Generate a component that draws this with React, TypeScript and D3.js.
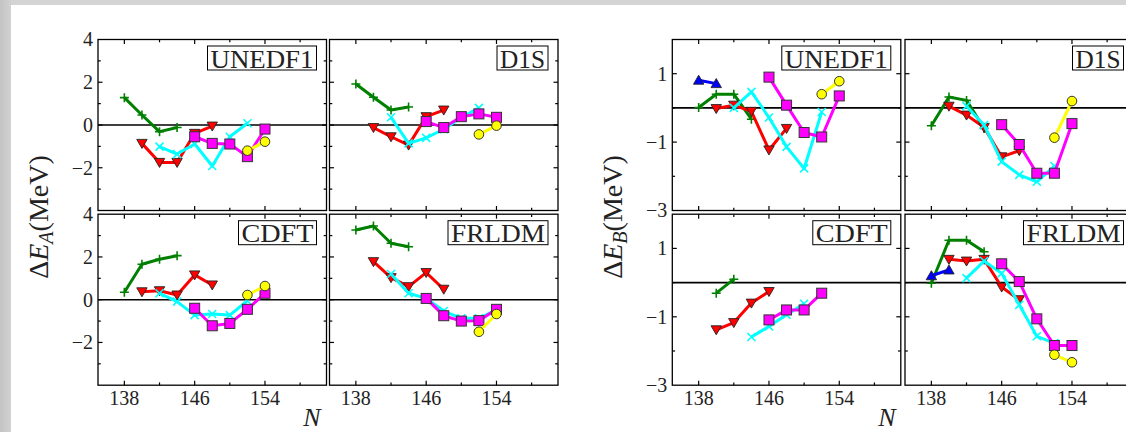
import React from 'react';
import * as d3 from 'd3';

const _ = null;
// Neutron numbers N = 138, 140, ..., 154
const N_VALUES = [138, 140, 142, 144, 146, 148, 150, 152, 154];
const X_TICKS = [138, 142, 146, 150, 154, 158];
const X_TICK_LABELS = [138, 146, 154];
const YA_MINOR = [-3, -1, 1, 3];
const YA_MAJOR = [-2, 0, 2];
const YA_LABELS = [4, 2, 0, -2];
const YB_MINOR = [-2, 0];
const YB_MAJOR = [-1, 1];
const YB_LABELS = [1, -1, -3];

// ---- Delta E_A ----
const A_UNEDF1_GREEN = [1.28, 0.47, -0.31, -0.12, _, _, _, _, _];
const A_UNEDF1_RED = [_, -0.86, -1.75, -1.75, -0.39, -0.05, _, _, _];
const A_UNEDF1_CYAN = [_, _, -1.01, -1.36, -0.89, -1.92, -0.55, 0.08, _];
const A_UNEDF1_MAGENTA = [_, _, _, _, -0.55, -0.86, -0.89, -1.48, -0.19];
const A_UNEDF1_YELLOW = [_, _, _, _, _, _, _, -1.2, -0.78];

const A_D1S_GREEN = [1.92, 1.3, 0.7, 0.84, _, _, _, _, _];
const A_D1S_RED = [_, -0.12, -0.55, -0.94, 0.39, 0.7, _, _, _];
const A_D1S_CYAN = [_, _, 0.36, -0.86, -0.6, -0.2, 0.35, 0.8, _];
const A_D1S_MAGENTA = [_, _, _, _, 0.16, -0.12, 0.39, 0.52, 0.36];
const A_D1S_YELLOW = [_, _, _, _, _, _, _, -0.44, -0.03];

const A_CDFT_GREEN = [0.35, 1.66, 1.89, 2.06, _, _, _, _, _];
const A_CDFT_RED = [_, 0.37, 0.42, 0.22, 1.16, 0.69, _, _, _];
const A_CDFT_CYAN = [_, _, 0.3, -0.09, -0.72, -0.67, -0.72, -0.05, _];
const A_CDFT_MAGENTA = [_, _, _, _, -0.4, -1.22, -1.11, -0.45, 0.3];
const A_CDFT_YELLOW = [_, _, _, _, _, _, _, 0.22, 0.64];

const A_FRLDM_GREEN = [3.26, 3.45, 2.64, 2.48, _, _, _, _, _];
const A_FRLDM_RED = [_, 1.78, 1.03, 0.61, 1.27, 0.49, _, _, _];
const A_FRLDM_CYAN = [_, _, 1.2, 0.3, 0.06, -0.53, -0.87, -0.87, -0.48];
const A_FRLDM_MAGENTA = [_, _, _, _, 0.06, -0.75, -1.0, -0.98, -0.45];
const A_FRLDM_YELLOW = [_, _, _, _, _, _, _, -1.5, -0.67];

// ---- Delta E_B ----
const B_UNEDF1_BLUE = [0.81, 0.71, _, _, _, _, _, _, _];
const B_UNEDF1_GREEN = [0.01, 0.4, 0.4, -0.33, _, _, _, _, _];
const B_UNEDF1_RED = [_, -0.02, 0.08, -0.1, -1.23, -0.6, _, _, _];
const B_UNEDF1_CYAN = [_, _, 0.0, 0.47, -0.28, -1.14, -1.77, -0.12, _];
const B_UNEDF1_MAGENTA = [_, _, _, _, 0.9, 0.08, -0.72, -0.85, 0.35];
const B_UNEDF1_YELLOW = [_, _, _, _, _, _, _, 0.4, 0.78];

const B_D1S_GREEN = [-0.52, 0.32, 0.22, -0.6, _, _, _, _, _];
const B_D1S_RED = [_, 0.05, -0.21, -0.57, -1.43, -1.25, _, _, _];
const B_D1S_CYAN = [_, _, 0.05, -0.5, -1.57, -1.96, -2.16, -1.7, _];
const B_D1S_MAGENTA = [_, _, _, _, -0.49, -1.07, -1.91, -1.91, -0.46];
const B_D1S_YELLOW = [_, _, _, _, _, _, _, -0.87, 0.2];

const B_CDFT_GREEN = [_, -0.31, 0.1, _, _, _, _, _, _];
const B_CDFT_RED = [_, -1.38, -1.17, -0.6, -0.26, _, _, _, _];
const B_CDFT_CYAN = [_, _, _, -1.59, -1.28, -0.94, -0.62, _, _];
const B_CDFT_MAGENTA = [_, _, _, _, -1.09, -0.8, -0.8, -0.31, _];

const B_FRLDM_BLUE = [0.2, 0.37, _, _, _, _, _, _, _];
const B_FRLDM_GREEN = [-0.02, 1.24, 1.24, 0.9, _, _, _, _, _];
const B_FRLDM_RED = [_, 0.68, 0.63, 0.68, -0.13, -0.5, _, _, _];
const B_FRLDM_CYAN = [_, _, 0.13, 0.63, 0.27, -0.65, -1.57, -1.77, _];
const B_FRLDM_MAGENTA = [_, _, _, _, 0.55, 0.03, -1.06, -1.84, -1.84];
const B_FRLDM_YELLOW = [_, _, _, _, _, _, _, -2.11, -2.33];

type Series = { key: string; values: (number | null)[] };
type PanelDef = { fig: 'A' | 'B'; col: number; row: number; label: string; series: Series[] };

const PANELS: PanelDef[] = [
  { fig: 'A', col: 0, row: 0, label: 'UNEDF1', series: [
    { key: 'green', values: A_UNEDF1_GREEN }, { key: 'red', values: A_UNEDF1_RED },
    { key: 'cyan', values: A_UNEDF1_CYAN }, { key: 'magenta', values: A_UNEDF1_MAGENTA },
    { key: 'yellow', values: A_UNEDF1_YELLOW }] },
  { fig: 'A', col: 1, row: 0, label: 'D1S', series: [
    { key: 'green', values: A_D1S_GREEN }, { key: 'red', values: A_D1S_RED },
    { key: 'cyan', values: A_D1S_CYAN }, { key: 'magenta', values: A_D1S_MAGENTA },
    { key: 'yellow', values: A_D1S_YELLOW }] },
  { fig: 'A', col: 0, row: 1, label: 'CDFT', series: [
    { key: 'green', values: A_CDFT_GREEN }, { key: 'red', values: A_CDFT_RED },
    { key: 'cyan', values: A_CDFT_CYAN }, { key: 'magenta', values: A_CDFT_MAGENTA },
    { key: 'yellow', values: A_CDFT_YELLOW }] },
  { fig: 'A', col: 1, row: 1, label: 'FRLDM', series: [
    { key: 'green', values: A_FRLDM_GREEN }, { key: 'red', values: A_FRLDM_RED },
    { key: 'cyan', values: A_FRLDM_CYAN }, { key: 'magenta', values: A_FRLDM_MAGENTA },
    { key: 'yellow', values: A_FRLDM_YELLOW }] },
  { fig: 'B', col: 0, row: 0, label: 'UNEDF1', series: [
    { key: 'green', values: B_UNEDF1_GREEN }, { key: 'red', values: B_UNEDF1_RED },
    { key: 'blue', values: B_UNEDF1_BLUE },
    { key: 'cyan', values: B_UNEDF1_CYAN }, { key: 'magenta', values: B_UNEDF1_MAGENTA },
    { key: 'yellow', values: B_UNEDF1_YELLOW }] },
  { fig: 'B', col: 1, row: 0, label: 'D1S', series: [
    { key: 'green', values: B_D1S_GREEN }, { key: 'red', values: B_D1S_RED },
    { key: 'cyan', values: B_D1S_CYAN }, { key: 'magenta', values: B_D1S_MAGENTA },
    { key: 'yellow', values: B_D1S_YELLOW }] },
  { fig: 'B', col: 0, row: 1, label: 'CDFT', series: [
    { key: 'green', values: B_CDFT_GREEN }, { key: 'red', values: B_CDFT_RED },
    { key: 'cyan', values: B_CDFT_CYAN }, { key: 'magenta', values: B_CDFT_MAGENTA }] },
  { fig: 'B', col: 1, row: 1, label: 'FRLDM', series: [
    { key: 'green', values: B_FRLDM_GREEN }, { key: 'red', values: B_FRLDM_RED },
    { key: 'blue', values: B_FRLDM_BLUE },
    { key: 'cyan', values: B_FRLDM_CYAN }, { key: 'magenta', values: B_FRLDM_MAGENTA },
    { key: 'yellow', values: B_FRLDM_YELLOW }] },
];

// ---- styles / layout ----
const STYLE: Record<string, { color: string; marker: string }> = {
  green: { color: '#008000', marker: 'plus' },
  red: { color: '#ff0000', marker: 'tridown' },
  blue: { color: '#0000ff', marker: 'triup' },
  cyan: { color: '#00ffff', marker: 'cross' },
  magenta: { color: '#ff00ff', marker: 'square' },
  yellow: { color: '#ffff00', marker: 'circle' },
};

const FIG_X0 = { A: [98, 329.5], B: [672.3, 905] };
const ROW_Y0 = [39.5, 214.2];
const PW = 228.5;
const PH = 171;
const LABEL_BOX_W: Record<string, number> = { UNEDF1: 109, D1S: 51, CDFT: 78, FRLDM: 100 };
const FONT = "'Liberation Serif', 'Times New Roman', serif";
const TXT = '#222';

function Marker({ type, x, y, color }: { type: string; x: number; y: number; color: string }) {
  switch (type) {
    case 'plus':
      return <path d={`M${x - 4.5},${y}h9M${x},${y - 4.5}v9`} stroke={color} strokeWidth={1.6} fill="none" />;
    case 'cross':
      return <path d={`M${x - 4},${y - 4}l8,8M${x - 4},${y + 4}l8,-8`} stroke={color} strokeWidth={1.6} fill="none" />;
    case 'tridown':
      return <path d={`M${x - 5.2},${y - 4}L${x + 5.2},${y - 4}L${x},${y + 5}Z`} fill={color} stroke="#222" strokeWidth={0.9} />;
    case 'triup':
      return <path d={`M${x - 5.2},${y + 4}L${x + 5.2},${y + 4}L${x},${y - 5}Z`} fill={color} stroke="#222" strokeWidth={0.9} />;
    case 'square':
      return <rect x={x - 5} y={y - 5} width={10} height={10} fill={color} stroke="#333" strokeWidth={1} />;
    case 'circle':
      return <circle cx={x} cy={y} r={4.8} fill={color} stroke="#222" strokeWidth={0.9} />;
    default:
      return null;
  }
}

function Panel({ p }: { p: PanelDef }) {
  const x0 = FIG_X0[p.fig][p.col];
  const y0 = ROW_Y0[p.row];
  const x = d3.scaleLinear().domain([135, 161]).range([x0, x0 + PW]);
  const y = d3.scaleLinear().domain(p.fig === 'A' ? [-4, 4] : [-3, 2]).range([y0 + PH, y0]);
  const line = d3.line<number | null>()
    .defined((d) => d != null)
    .x((_d, i) => x(N_VALUES[i]))
    .y((d) => y(d as number));
  const minor = p.fig === 'A' ? YA_MINOR : YB_MINOR;
  const major = p.fig === 'A' ? YA_MAJOR : YB_MAJOR;
  const labels = p.fig === 'A' ? YA_LABELS : YB_LABELS;
  const bw = LABEL_BOX_W[p.label];
  const bx = x0 + PW - 10 - bw;
  const by = y0 + 6.5;
  const clipId = `clip-${p.fig}-${p.col}-${p.row}`;
  return (
    <g>
      <defs>
        <clipPath id={clipId}>
          <rect x={x0} y={y0} width={PW} height={PH} />
        </clipPath>
      </defs>
      {/* zero line */}
      <line x1={x0} x2={x0 + PW} y1={y(0)} y2={y(0)} stroke="#000" strokeWidth={1.6} />
      {/* ticks */}
      {X_TICKS.map((t) => {
        const len = X_TICK_LABELS.includes(t) ? 4.5 : 2.8;
        return (
          <g key={`xt${t}`}>
            <line x1={x(t)} x2={x(t)} y1={y0 + PH} y2={y0 + PH - len} stroke="#000" strokeWidth={1.2} />
            <line x1={x(t)} x2={x(t)} y1={y0} y2={y0 + len} stroke="#000" strokeWidth={1.2} />
          </g>
        );
      })}
      {[...minor.map((v) => [v, 2.8]), ...major.map((v) => [v, 4.5])].map(([v, len]) => (
        <g key={`yt${v}`}>
          <line x1={x0} x2={x0 + len} y1={y(v)} y2={y(v)} stroke="#000" strokeWidth={1.2} />
          <line x1={x0 + PW} x2={x0 + PW - len} y1={y(v)} y2={y(v)} stroke="#000" strokeWidth={1.2} />
        </g>
      ))}
      {/* label box */}
      <rect x={bx} y={by} width={bw} height={24} fill="#fff" stroke="#000" strokeWidth={1} />
      <text x={bx + 3} y={by + 21.5} fontFamily={FONT} fontSize={26} fill={TXT}
        textLength={bw - 6} lengthAdjust="spacingAndGlyphs">{p.label}</text>
      {/* series */}
      <g clipPath={`url(#${clipId})`}>
        {p.series.map((s) => {
          const st = STYLE[s.key];
          return (
            <g key={s.key}>
              <path d={line(s.values) || ''} fill="none" stroke={st.color} strokeWidth={3} strokeLinejoin="round" />
              {s.values.map((v, i) =>
                v == null ? null : <Marker key={i} type={st.marker} x={x(N_VALUES[i])} y={y(v)} color={st.color} />
              )}
            </g>
          );
        })}
      </g>
      {/* frame */}
      <rect x={x0} y={y0} width={PW} height={PH} fill="none" stroke="#000" strokeWidth={1.3} />
      {/* y tick labels (first column only) */}
      {p.col === 0 && labels.map((v) => (
        <text key={`yl${v}`} x={x0 - 5} y={y(v)} dy="0.34em" textAnchor="end" fontFamily={FONT} fontSize={20} fill={TXT}>
          {v < 0 ? `\u2212${Math.abs(v)}` : `${v}`}
        </text>
      ))}
      {/* x tick labels (bottom row only) */}
      {p.row === 1 && X_TICK_LABELS.map((t) => (
        <text key={`xl${t}`} x={x(t)} y={y0 + PH + 20} textAnchor="middle" fontFamily={FONT} fontSize={20} fill={TXT}>
          {t}
        </text>
      ))}
    </g>
  );
}

function YTitle({ x, sub }: { x: number; sub: string }) {
  return (
    <text transform={`translate(${x},217) rotate(-90)`} textAnchor="middle" fontFamily={FONT} fontSize={28} fill={TXT}>
      <tspan>{'\u0394'}</tspan>
      <tspan fontStyle="italic">E</tspan>
      <tspan fontStyle="italic" fontSize={20} dy={5}>{sub}</tspan>
      <tspan dy={-5}>(MeV)</tspan>
    </text>
  );
}

export default function App() {
  return (
    <div style={{ position: 'absolute', left: 0, top: 0 }}>
      <svg width={1126} height={432} style={{ display: 'block' }}>
        <defs>
          <linearGradient id="leftgray" x1="0" x2="1" y1="0" y2="0">
            <stop offset="0" stopColor="#c4c4c4" />
            <stop offset="1" stopColor="#d2d2d2" />
          </linearGradient>
        </defs>
        <rect x={0} y={0} width={1126} height={432} fill="#fff" />
        <rect x={0} y={0} width={1126} height={5} fill="#d4d4d4" />
        <rect x={0} y={0} width={11} height={432} fill="url(#leftgray)" />
        {PANELS.map((p) => (
          <Panel key={`${p.fig}${p.col}${p.row}`} p={p} />
        ))}
        <YTitle x={48} sub="A" />
        <YTitle x={622} sub="B" />
        <text x={312} y={426} textAnchor="middle" fontFamily={FONT} fontStyle="italic" fontSize={26} fill={TXT}>N</text>
        <text x={887} y={426} textAnchor="middle" fontFamily={FONT} fontStyle="italic" fontSize={26} fill={TXT}>N</text>
      </svg>
    </div>
  );
}
